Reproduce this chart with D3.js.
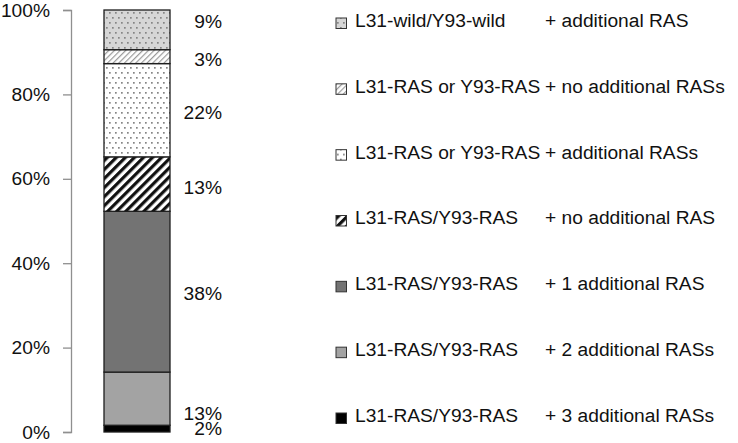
<!DOCTYPE html>
<html>
<head>
<meta charset="utf-8">
<script src="https://cdn.jsdelivr.net/npm/d3@7/dist/d3.min.js"></script>
<style>
  html, body { margin: 0; padding: 0; background: #fff; }
  svg { display: block; font-family: "Liberation Sans", Arial, sans-serif; }
</style>
</head>
<body>
<svg id="chart" width="738" height="443"></svg>
<script>
// ---- data (bottom to top) ----
const segmentKeys = ["r3", "r2", "r1", "r0", "orAdd", "orNo", "wild"];
const segmentValues = [1.6, 12.6, 38.1, 12.9, 22.1, 3.3, 9.4];
const segmentLabels = ["2%", "13%", "38%", "13%", "22%", "3%", "9%"];
const tickValues = [0, 20, 40, 60, 80, 100];
const tickLabels = ["0%", "20%", "40%", "60%", "80%", "100%"];
// legend (top to bottom)
const legendKeys = ["wild", "orNo", "orAdd", "r0", "r1", "r2", "r3"];
const legendPrefix = ["L31-wild/Y93-wild", "L31-RAS or Y93-RAS", "L31-RAS or Y93-RAS",
  "L31-RAS/Y93-RAS", "L31-RAS/Y93-RAS", "L31-RAS/Y93-RAS", "L31-RAS/Y93-RAS"];
const legendSuffix = ["+ additional RAS", "+ no additional RASs", "+ additional RASs",
  "+ no additional RAS", "+ 1 additional RAS", "+ 2 additional RASs", "+ 3 additional RASs"];

// ---- layout / style ----
const fills = {
  wild: "url(#pDotsGray)", orNo: "url(#pThinStripe)", orAdd: "url(#pDotsWhite)",
  r0: "url(#pBoldStripe)", r1: "#737373", r2: "#a3a3a3", r3: "#000"
};
const labelShift = [-0.6, 14.6, 1, 3, 2, 2, -9]; // px nudges of the value labels, as in the original
const FONT = 19.2;

const svg = d3.select("#chart");
const defs = svg.append("defs");

function dots(id, bg) {
  const p = defs.append("pattern").attr("id", id).attr("patternUnits", "userSpaceOnUse")
    .attr("width", 6).attr("height", 10);
  p.append("rect").attr("width", 6).attr("height", 10).attr("fill", bg);
  p.append("rect").attr("x", 1).attr("y", 2).attr("width", 1.7).attr("height", 1.7).attr("fill", "#858585");
  p.append("rect").attr("x", 4).attr("y", 7).attr("width", 1.7).attr("height", 1.7).attr("fill", "#858585");
}
dots("pDotsGray", "#d6d6d6");
dots("pDotsWhite", "#ffffff");
{
  const p = defs.append("pattern").attr("id", "pThinStripe").attr("patternUnits", "userSpaceOnUse")
    .attr("width", 4).attr("height", 4).attr("patternTransform", "rotate(45)");
  p.append("rect").attr("width", 4).attr("height", 4).attr("fill", "#fff");
  p.append("rect").attr("width", 1.2).attr("height", 4).attr("fill", "#9a9a9a");
}
{
  const p = defs.append("pattern").attr("id", "pBoldStripe").attr("patternUnits", "userSpaceOnUse")
    .attr("width", 6.4).attr("height", 6.4).attr("patternTransform", "rotate(45)");
  p.append("rect").attr("width", 6.4).attr("height", 6.4).attr("fill", "#fff");
  p.append("rect").attr("width", 3.2).attr("height", 6.4).attr("fill", "#111");
}

const y = d3.scaleLinear().domain([0, 100]).range([432, 10]);
const x = d3.scaleBand().domain(["bar"]).range([104, 170]).padding(0);

// axis
const axis = d3.axisLeft(y).tickValues(tickValues).tickSize(8).tickPadding(13)
  .tickFormat((d, i) => tickLabels[i]);
const gAxis = svg.append("g").attr("transform", "translate(71,0)").call(axis);
gAxis.select(".domain").attr("stroke", "#8f8f8f").attr("stroke-width", 1.3);
gAxis.selectAll(".tick line").attr("stroke", "#8f8f8f").attr("stroke-width", 1.3);
gAxis.selectAll(".tick text").attr("font-size", FONT).attr("fill", "#111")
  .attr("font-family", "Liberation Sans, Arial, sans-serif").attr("dy", "0.32em");

// stacked segments
let acc = 0;
const segs = segmentValues.map((v, i) => {
  const s = { key: segmentKeys[i], y0: acc, y1: acc + v, label: segmentLabels[i], i };
  acc += v;
  return s;
});

const bx = x("bar"), bw = x.bandwidth();
svg.append("g").selectAll("rect").data(segs).join("rect")
  .attr("x", bx).attr("width", bw)
  .attr("y", d => y(d.y1)).attr("height", d => y(d.y0) - y(d.y1))
  .attr("fill", d => fills[d.key])
  .attr("stroke", "#1e1e1e").attr("stroke-width", 1.3);

// value labels
svg.append("g").selectAll("text").data(segs).join("text")
  .attr("x", 222).attr("y", d => y((d.y0 + d.y1) / 2) + labelShift[d.i])
  .attr("dy", "0.36em").attr("text-anchor", "end")
  .attr("font-size", FONT).attr("fill", "#111").text(d => d.label);

// legend
const ly = d3.scalePoint().domain(d3.range(legendKeys.length)).range([20, 415]);
const lg = svg.append("g").selectAll("g").data(legendKeys).join("g")
  .attr("transform", (d, i) => `translate(0,${ly(i)})`);
lg.append("rect").attr("x", 336).attr("y", -2).attr("width", 10.5).attr("height", 10.5)
  .attr("fill", d => fills[d]).attr("stroke", "#333").attr("stroke-width", 1);
lg.append("text").attr("x", 355).attr("dy", "0.36em").attr("font-size", FONT).attr("fill", "#111")
  .text((d, i) => legendPrefix[i]);
lg.append("text").attr("x", 545).attr("dy", "0.36em").attr("font-size", FONT).attr("fill", "#111")
  .text((d, i) => legendSuffix[i]);
</script>
</body>
</html>
